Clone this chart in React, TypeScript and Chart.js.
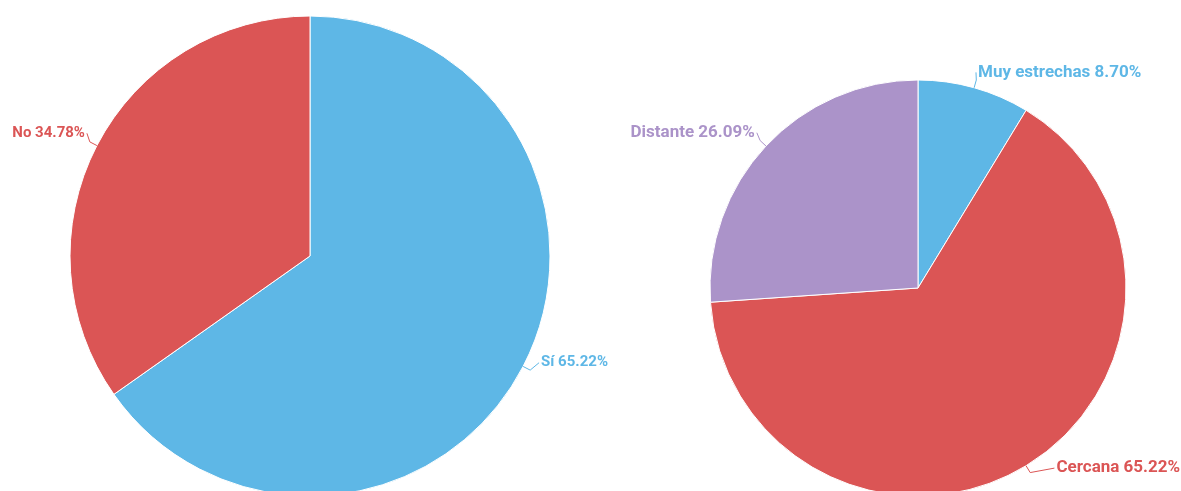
import React, { useEffect, useRef } from "react";
import { Chart, registerables } from "chart.js";

Chart.register(...registerables);

const leftCategories = ["Sí", "No"];
const leftValues = [65.22, 34.78];
const leftColors = ["#5EB7E6", "#DB5555"];

const rightCategories = ["Muy estrechas", "Cercana", "Distante"];
const rightValues = [8.7, 65.22, 26.09];
const rightColors = ["#5EB7E6", "#DB5555", "#AB93C9"];

const outLabels = {
  id: "outLabels",
  afterDatasetsDraw(chart: any, _args: any, opts: any) {
    const meta = chart.getDatasetMeta(0);
    const ds = chart.data.datasets[0];
    const ctx = chart.ctx as CanvasRenderingContext2D;
    const labels = chart.data.labels as string[];
    meta.data.forEach((arc: any, i: number) => {
      const { x, y, startAngle, endAngle, outerRadius } = arc.getProps(
        ["x", "y", "startAngle", "endAngle", "outerRadius"],
        true
      );
      const mid = (startAngle + endAngle) / 2;
      const cos = Math.cos(mid);
      const sin = Math.sin(mid);
      const ex = x + cos * outerRadius;
      const ey = y + sin * outerRadius;
      const bx = x + cos * (outerRadius + 8);
      const by = y + sin * (outerRadius + 8);
      const d = opts.distance ?? 18;
      const n = (opts.nudges && opts.nudges[i]) || [0, 0];
      const lx = x + cos * (outerRadius + d) + n[0];
      const ly = y + sin * (outerRadius + d) + n[1];
      const right = cos >= 0;
      const color = ds.backgroundColor[i];
      ctx.save();
      ctx.strokeStyle = color;
      ctx.lineWidth = 1;
      ctx.beginPath();
      ctx.moveTo(ex, ey);
      ctx.lineTo(bx, by);
      ctx.lineTo(lx, ly);
      ctx.stroke();
      ctx.font = opts.font;
      ctx.fillStyle = color;
      ctx.textBaseline = "middle";
      ctx.textAlign = right ? "left" : "right";
      const text = `${labels[i]} ${ds.data[i].toFixed(2)}%`;
      ctx.fillText(text, lx + (right ? 2 : -2), ly);
      ctx.restore();
    });
  },
};

function PieChart(props: {
  labels: string[];
  values: number[];
  colors: string[];
  width: number;
  height: number;
  padding: { left: number; right: number; top: number; bottom: number };
  radius: number;
  nudges: number[][];
  font: string;
}) {
  const ref = useRef<HTMLCanvasElement>(null);
  useEffect(() => {
    if (!ref.current) return;
    const chart = new Chart(ref.current, {
      type: "pie",
      data: {
        labels: props.labels,
        datasets: [
          {
            data: props.values,
            backgroundColor: props.colors,
            borderColor: "#ffffff",
            borderWidth: 1,
          },
        ],
      },
      options: {
        responsive: false,
        animation: false,
        radius: props.radius,
        layout: { padding: props.padding },
        plugins: {
          legend: { display: false },
          tooltip: { enabled: false },
          outLabels: { distance: 18, nudges: props.nudges, font: props.font },
        } as any,
      },
      plugins: [outLabels],
    });
    return () => chart.destroy();
  }, []);
  return (
    <canvas
      ref={ref}
      width={props.width}
      height={props.height}
      style={{ width: props.width, height: props.height, display: "block" }}
    />
  );
}

export default function App() {
  return (
    <div
      style={{
        position: "fixed",
        left: 0,
        top: 0,
        width: 1181,
        height: 491,
        overflow: "hidden",
        background: "#ffffff",
      }}
    >
      <div style={{ position: "absolute", left: 0, top: 0 }}>
        <PieChart
          labels={leftCategories}
          values={leftValues}
          colors={leftColors}
          width={620}
          height={512}
          padding={{ left: 70, right: 70, top: 16, bottom: 16 }}
          radius={240}
          font="bold 15px Roboto"
          nudges={[
            [0, -12],
            [6, -4],
          ]}
        />
      </div>
      <div style={{ position: "absolute", left: 620, top: 0 }}>
        <PieChart
          labels={rightCategories}
          values={rightValues}
          colors={rightColors}
          width={561}
          height={512}
          padding={{ left: 90, right: 55, top: 80, bottom: 16 }}
          radius={208}
          font="bold 17px Roboto"
          nudges={[
            [-3, 2],
            [19, -13],
            [4, -1],
          ]}
        />
      </div>
    </div>
  );
}
